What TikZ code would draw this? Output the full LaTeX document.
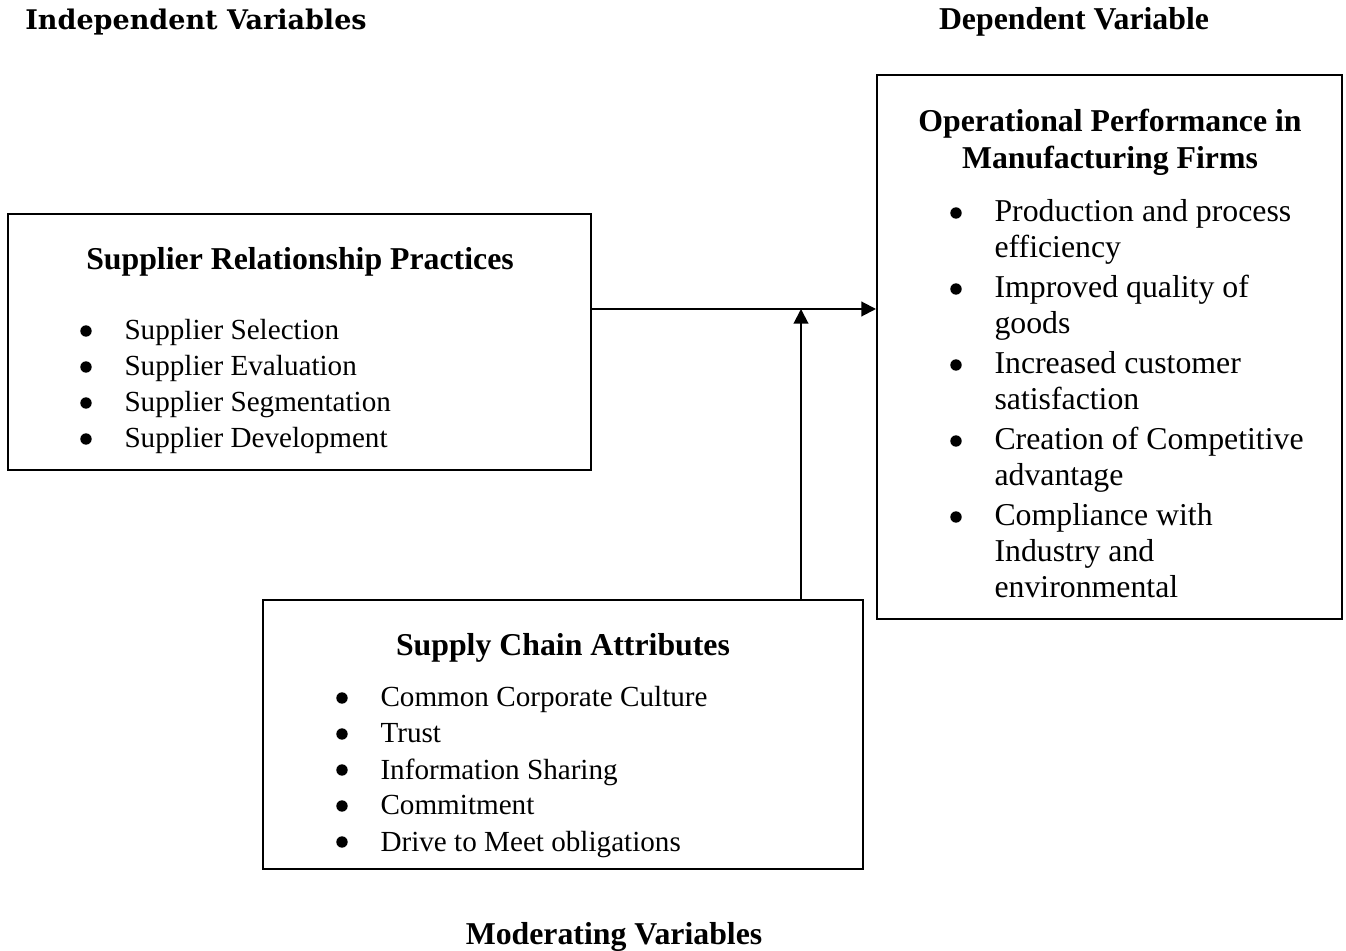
\documentclass[tikz,border=0pt]{standalone}
\usepackage{fontspec}
\setmainfont{Liberation Serif}
\newfontfamily\slabfont{DejaVu Serif}
\usetikzlibrary{arrows.meta,fit}

\tikzset{
  frame/.style={draw, line width=0.75pt, inner sep=0pt},
  title/.style={font=\fontsize{12}{14}\selectfont\bfseries, inner sep=0pt, anchor=base},
  entry/.style={font=\fontsize{11}{13}\selectfont, inner sep=0pt, anchor=base west},
  bigentry/.style={font=\fontsize{12}{14}\selectfont, inner sep=0pt, anchor=base west},
  bullet/.style={circle, fill, inner sep=0pt, minimum size=4.3pt},
  link/.style={line width=0.75pt, -{Triangle[length=5.5pt,width=5.5pt]}},
}

\begin{document}
\begin{tikzpicture}[x=0.3774pt, y=-0.3774pt]
\useasboundingbox (0,0) rectangle (1346,951);

% column headings
\node[title, font=\slabfont\bfseries\fontsize{10.2}{12}\selectfont] (indep) at (196,30) {Independent Variables};
\node[title] (dep) at (1074,30) {Dependent Variable};
\node[title] (moder) at (614,944) {Moderating Variables};

% the three boxes
\node[frame, fit={(8,214) (591,470)}] (srp) {};
\node[frame, fit={(877,75) (1342,619)}] (perf) {};
\node[frame, fit={(263,600) (863,869)}] (sca) {};

% supplier relationship practices
\node[title] (srp-title) at (300,270) {Supplier Relationship Practices};
\foreach \yy/\txt [count=\i] in {340/Supplier Selection, 376/Supplier Evaluation,
    412/Supplier Segmentation, 448/Supplier Development} {
  \node[bullet] (srp-b\i) at (86,\yy-9) {};
  \node[entry] (srp-\i) at (124,\yy) {\txt};
}

% operational performance
\node[title] (perf-t1) at (1110,132) {Operational Performance in};
\node[title] (perf-t2) at (1110,169) {Manufacturing Firms};
\foreach \yy [count=\i] in {222,298,374,450,526}
  \node[bullet] (perf-b\i) at (956,\yy-9) {};
\foreach \yy/\txt [count=\i] in {222/Production and process, 258/efficiency,
    298/Improved quality of, 334/goods, 374/Increased customer, 410/satisfaction,
    450/Creation of Competitive, 486/advantage, 526/Compliance with,
    562/Industry and, 598/environmental}
  \node[bigentry] (perf-\i) at (994,\yy) {\txt};

% supply chain attributes
\node[title] (sca-title) at (563,656) {Supply Chain Attributes};
\foreach \yy/\txt [count=\i] in {707/Common Corporate Culture, 743/Trust,
    779/Information Sharing, 815/Commitment, 851/Drive to Meet obligations} {
  \node[bullet] (sca-b\i) at (342,\yy-9) {};
  \node[entry] (sca-\i) at (380,\yy) {\txt};
}

% direct and moderating effects
\coordinate (join) at (801,309);
\draw[link] (srp.east |- join) -- (perf.west |- join);
\draw[link] (sca.north -| join) -- (join);
\end{tikzpicture}
\end{document}
